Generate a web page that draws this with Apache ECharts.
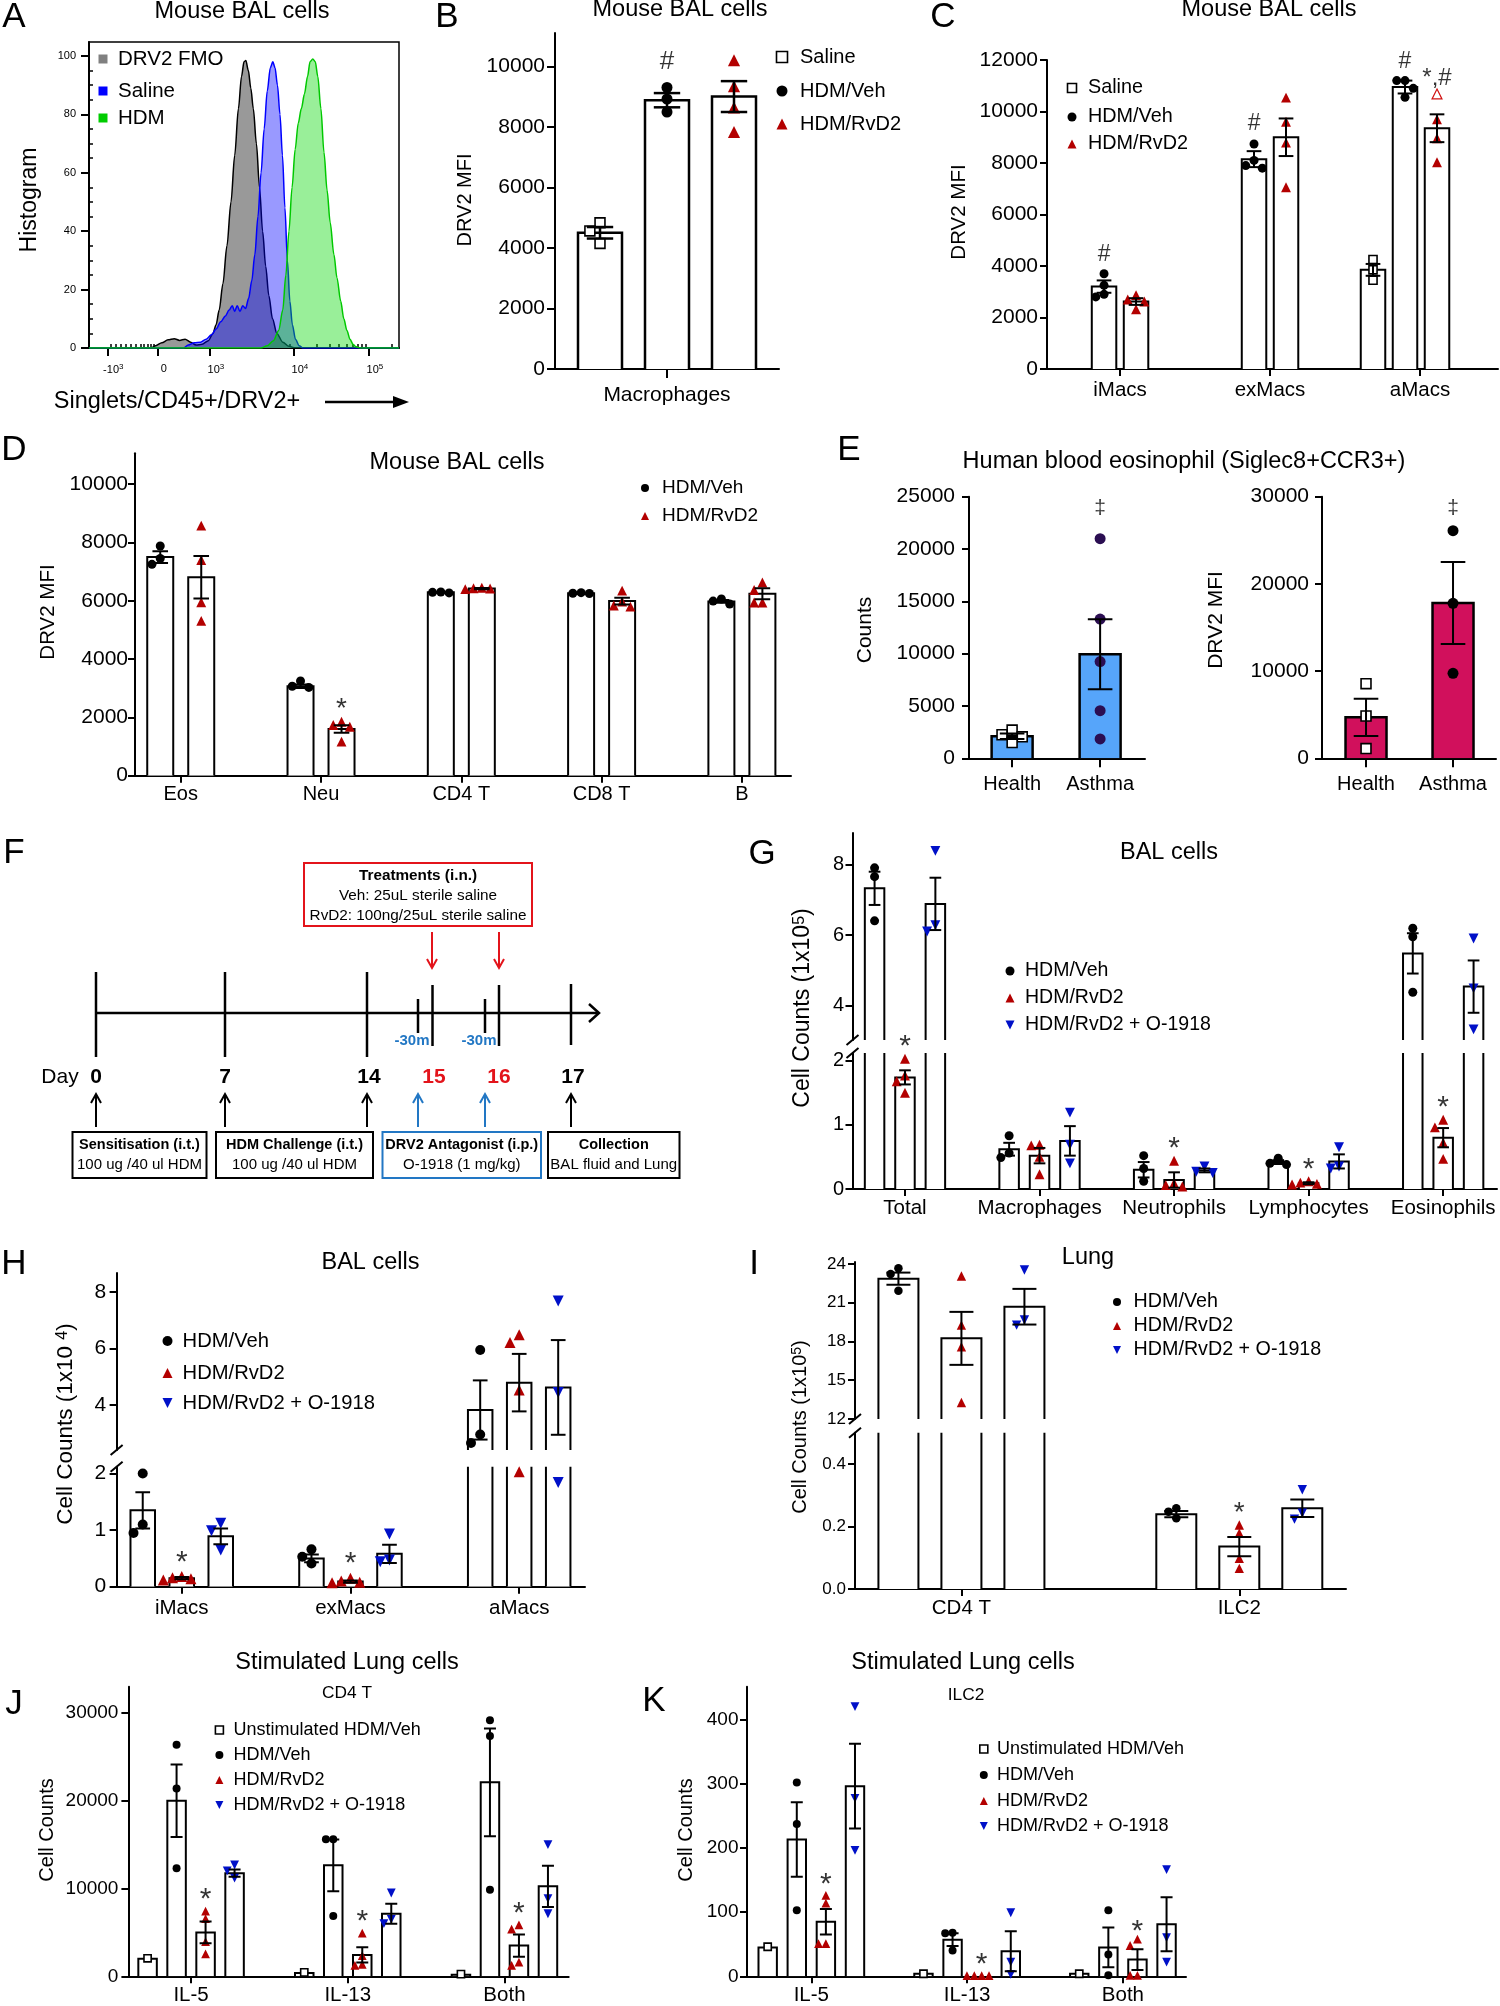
<!DOCTYPE html>
<html>
<head>
<meta charset="utf-8">
<title>DRV2 figure</title>
<script src="https://cdn.jsdelivr.net/npm/echarts@6.0.0/dist/echarts.min.js"></script>
<style>html,body{margin:0;padding:0;background:#fff;}#chart{width:1500px;height:2006px;}</style>
</head>
<body>
<div id="chart"></div>
<script>
// ======================= DATA =======================
// Panel A: flow histograms, [display channel (0-1000 across plot), % of max]
const A_fmo = [[0,0],[200,0],[215,0.8],[235,1.8],[255,2.8],[275,3.2],[292,2.6],[310,3],[328,2],[345,1],[365,1.3],[385,2.5],[400,5],[410,8],[420,13],[432,22],[445,35],[458,50],[470,66],[482,82],[492,93],[500,98],[506,98.5],[514,95],[522,89],[530,82],[540,70],[550,55],[560,40],[570,28],[580,18],[592,10],[606,5],[625,2],[645,0.6],[665,0],[1000,0]];
const A_saline = [[0,0],[305,0],[320,1],[340,1.8],[360,2],[378,3],[395,4.5],[410,6.5],[425,9],[440,11],[452,13],[462,14.5],[470,12.5],[478,14.5],[487,12.5],[496,14.5],[505,13.5],[515,17],[525,23],[535,32],[545,45],[555,60],[565,75],[575,88],[585,96],[593,98],[600,96],[608,90],[616,80],[624,66],[632,48],[640,30],[648,16],[656,8],[666,3],[678,0.8],[690,0],[1000,0]];
const A_hdm = [[0,0],[555,0],[575,0.8],[595,2.5],[612,6],[625,13],[635,25],[645,40],[655,55],[665,68],[675,77],[685,82],[695,87],[705,93],[713,98],[722,99],[730,98],[738,93],[748,82],[758,67],[768,54],[778,43],[790,32],[800,24],[812,16],[822,10],[832,6],[842,3],[852,1.2],[862,0.4],[875,0],[1000,0]];
const A_xTickLabels = ['-10^3','0','10^3','10^4','10^5'];

// Panel B
const B_cats = ['Macrophages'];
const B_saline_mean = [4500], B_saline_sem = [190], B_saline_pts = [[4830, 4560, 4150]];
const B_veh_mean = [8880], B_veh_sem = [235], B_veh_pts = [[9300, 8920, 8490]];
const B_rvd2_mean = [9000], B_rvd2_sem = [510], B_rvd2_pts = [[10200, 9340, 8640, 7830]];

// Panel C
const C_cats = ['iMacs', 'exMacs', 'aMacs'];
const C_saline_mean = [null, null, 3850], C_saline_sem = [null, null, 230], C_saline_pts = [[], [], [4250, 3850, 3450]];
const C_veh_mean = [3200, 8150, 10950], C_veh_sem = [240, 310, 250];
const C_veh_pts = [[3700, 3250, 2900, 2800], [8740, 8100, 7900, 7800], [11200, 11200, 10900, 10550]];
const C_rvd2_mean = [2620, 9000, 9350], C_rvd2_sem = [130, 730, 540];
const C_rvd2_pts = [[2870, 2700, 2620, 2320], [10540, 9600, 8790, 7060], [9700, 8960, 8030]];
const C_rvd2_open = [[], [], [10680]];

// Panel D
const D_cats = ['Eos', 'Neu', 'CD4 T', 'CD8 T', 'B'];
const D_veh_mean = [7500, 3070, 6290, 6260, 5980], D_veh_sem = [200, 60, 15, 15, 50];
const D_veh_pts = [[7880, 7450, 7250], [3250, 3070, 3030], [6300, 6290, 6270], [6280, 6260, 6250], [6060, 5990, 5890]];
const D_rvd2_mean = [6810, 1600, 6420, 5990, 6240], D_rvd2_sem = [730, 130, 20, 115, 190];
const D_rvd2_pts = [[8580, 7400, 5950, 5310], [1850, 1740, 1680, 1170], [6450, 6430, 6420, 6400], [6350, 5970, 5840, 5800], [6630, 6370, 5940, 5940]];

// Panel E
const E_cats = ['Health', 'Asthma'];
const E1_health_mean = [2100, null], E1_health_sem = [260, null], E1_health_pts = [[2700, 2250, 2050, 1500], []];
const E1_asthma_mean = [null, 9950], E1_asthma_sem = [null, 3350], E1_asthma_pts = [[], [20990, 13310, 9240, 4550, 1850]];
const E2_health_mean = [4700, null], E2_health_sem = [2140, null], E2_health_pts = [[8560, 4850, 1110], []];
const E2_asthma_mean = [null, 17800], E2_asthma_sem = [null, 4700], E2_asthma_pts = [[], [26100, 17770, 9750]];

// Panel G
const G_cats = ['Total', 'Macrophages', 'Neutrophils', 'Lymphocytes', 'Eosinophils'];
const G_veh_mean = [7.32, 0.62, 0.30, 0.42, 5.48], G_veh_sem = [0.47, 0.10, 0.12, 0.03, 0.57];
const G_veh_pts = [[7.9, 7.65, 6.4], [0.83, 0.56, 0.49], [0.52, 0.32, 0.12], [0.48, 0.40, 0.38], [6.19, 5.95, 4.38]];
const G_rvd2_mean = [1.74, 0.52, 0.14, 0.09, 0.80], G_rvd2_sem = [0.11, 0.12, 0.12, 0.015, 0.15];
const G_rvd2_pts = [[2.03, 1.77, 1.68, 1.5], [0.69, 0.68, 0.5, 0.23], [0.44, 0.09, 0.06, 0.04], [0.12, 0.1, 0.08, 0.07], [1.08, 0.96, 0.72, 0.47]];
const G_o_mean = [6.88, 0.75, 0.29, 0.43, 4.54], G_o_sem = [0.74, 0.23, 0.03, 0.11, 0.74];
const G_o_pts = [[8.38, 6.28, 6.1], [1.19, 0.69, 0.40], [0.35, 0.27, 0.25], [0.65, 0.35, 0.32], [5.9, 4.49, 3.33]];

// Panel H
const H_cats = ['iMacs', 'exMacs', 'aMacs'];
const H_veh_mean = [1.35, 0.50, 3.82], H_veh_sem = [0.32, 0.07, 1.05];
const H_veh_pts = [[2.0, 1.1, 0.95], [0.66, 0.53, 0.41], [5.95, 2.95, 2.65]];
const H_rvd2_mean = [0.15, 0.09, 4.79], H_rvd2_sem = [0.02, 0.02, 1.02];
const H_rvd2_pts = [[0.18, 0.16, 0.14, 0.12], [0.15, 0.10, 0.08, 0.07], [6.49, 6.21, 4.53, 2.03]];
const H_o_mean = [0.89, 0.58, 4.62], H_o_sem = [0.14, 0.16, 1.68];
const H_o_pts = [[1.12, 0.99, 0.65], [0.93, 0.47, 0.44], [7.69, 4.44, 1.84]];

// Panel I
const I_cats = ['CD4 T', 'ILC2'];
const I_veh_mean = [22.86, 0.240], I_veh_sem = [0.47, 0.010];
const I_veh_pts = [[23.66, 23.22, 21.93], [0.259, 0.248, 0.227]];
const I_rvd2_mean = [18.24, 0.136], I_rvd2_sem = [2.05, 0.031];
const I_rvd2_pts = [[23.07, 19.27, 17.59, 13.28], [0.205, 0.179, 0.098, 0.066]];
const I_o_mean = [20.69, 0.259], I_o_sem = [1.38, 0.028];
const I_o_pts = [[23.53, 19.66, 19.27], [0.318, 0.243, 0.224]];

// Panel J (CD4 T)
const J_cats = ['IL-5', 'IL-13', 'Both'];
const J_unstim_mean = [2000, 380, 190], J_unstim_pts = [[2050], [450], [250]];
const J_veh_mean = [20000, 12650, 22100], J_veh_sem = [4130, 2950, 6140];
const J_veh_pts = [[26380, 21390, 12310], [15610, 15610, 6870], [29190, 27390, 9870]];
const J_rvd2_mean = [5000, 2440, 3500], J_rvd2_sem = [1240, 880, 1260];
const J_rvd2_pts = [[7430, 6570, 3940, 2550], [4920, 2360, 1350, 1240], [5850, 5370, 1610, 1240]];
const J_o_mean = [11750, 7130, 10250], J_o_sem = [410, 1130, 2360];
const J_o_pts = [[12680, 12010, 11180], [9490, 6490, 6000], [15010, 8860, 7130]];

// Panel K (ILC2)
const K_cats = ['IL-5', 'IL-13', 'Both'];
const K_unstim_mean = [45, 4, 4], K_unstim_pts = [[46], [4], [4]];
const K_veh_mean = [213, 57, 45], K_veh_sem = [58, 10, 31];
const K_veh_pts = [[302, 237, 103], [68, 67, 40], [103, 34, 1.5]];
const K_rvd2_mean = [85, 0, 26], K_rvd2_sem = [20, 0, 16];
const K_rvd2_pts = [[126, 114, 51, 51], [1, 1, 1, 1], [58, 48, 1.5, 1.5]];
const K_o_mean = [296, 39, 81], K_o_sem = [66, 31, 42];
const K_o_pts = [[420, 277, 196], [99, 22, 3], [166, 60, 22]];

// ======================= STYLE / LAYOUT =======================
const FONT = "'Liberation Sans', Arial, Helvetica, sans-serif";
const NARROW = "'Liberation Sans Narrow', 'Liberation Sans', Arial, sans-serif";
const RED = '#b30000', BLUE = '#0010c8';
const INV = 'path://M0,0L10,0L5,9Z';
const AX = {color: '#000', width: 2};
const SYM = {
  sq:   {symbol: 'rect', color: '#fff', border: '#000', bw: 1.6, scale: 0.9},
  dot:  {symbol: 'circle', color: '#000', scale: 1},
  dotP: {symbol: 'circle', color: '#2b0e52', scale: 1},
  tri:  {symbol: 'triangle', color: RED, scale: 1.1},
  inv:  {symbol: INV, color: BLUE, scale: 1.1},
  triOpen: {symbol: 'triangle', color: 'rgba(0,0,0,0)', border: '#d01010', bw: 1.2, scale: 1.1}
};
const TITLE = 23.5;

const option = {animation: false, backgroundColor: '#fff', textStyle: {fontFamily: FONT},
  grid: [], xAxis: [], yAxis: [], series: [], graphic: {elements: []}};
const GFX = option.graphic.elements;

function txt(x, y, text, size, o) {
  o = o || {};
  const st = {text: text, fontSize: size, fontFamily: o.family || FONT, fontWeight: o.bold ? 'bold' : 'normal',
    fill: o.color || '#000', align: o.align || 'center', verticalAlign: o.va || 'middle',
    textAlign: o.align || 'center', textVerticalAlign: o.va || 'middle'};
  if (o.rich) st.rich = o.rich;
  return {type: 'text', x: x, y: y, rotation: o.rot || 0, z: 100, silent: true, style: st};
}
function ln(x1, y1, x2, y2, color, w) {
  return {type: 'line', z: 100, silent: true, shape: {x1, y1, x2, y2}, style: {stroke: color || '#000', lineWidth: w || 2}};
}
function pl(points, color, w) {
  return {type: 'polyline', z: 100, silent: true, shape: {points}, style: {stroke: color || '#000', lineWidth: w || 2, fill: 'none'}};
}
function symG(kind, cx, cy, s) {
  const h = s / 2;
  if (kind === 'sq') return {type: 'rect', z: 100, shape: {x: cx - h, y: cy - h, width: s, height: s}, style: {fill: '#fff', stroke: '#000', lineWidth: 1.6}};
  if (kind === 'dot') return {type: 'circle', z: 100, shape: {cx, cy, r: h}, style: {fill: '#000'}};
  if (kind === 'tri') return {type: 'polygon', z: 100, shape: {points: [[cx, cy - h], [cx + h, cy + h], [cx - h, cy + h]]}, style: {fill: RED}};
  if (kind === 'inv') return {type: 'polygon', z: 100, shape: {points: [[cx - h, cy - h], [cx + h, cy - h], [cx, cy + h]]}, style: {fill: BLUE}};
  return {type: 'rect', z: 100, shape: {x: cx - h, y: cy - h, width: s, height: s}, style: {fill: kind}};
}
function legend(sx, tx, ys, items, size, font) {
  items.forEach((it, i) => {
    GFX.push(symG(it[0], sx, ys[i], size));
    GFX.push(txt(tx, ys[i], it[1], font, {align: 'left'}));
  });
}
const fmtInt = v => String(Math.round(v));

function addAxes(g, xCfg, yCfg, extraGrid) {
  const gi = option.grid.length;
  option.grid.push(Object.assign({left: g.left, top: g.top, width: g.width, height: g.height, show: false}, extraGrid || {}));
  const xi = option.xAxis.length; option.xAxis.push(Object.assign({gridIndex: gi}, xCfg));
  const yi = option.yAxis.length; option.yAxis.push(Object.assign({gridIndex: gi}, yCfg));
  return {gi, xi, yi};
}

function swarm(pys, size) {
  const order = pys.map((_, i) => i).sort((a, b) => pys[a] - pys[b]);
  const placed = [], out = new Array(pys.length).fill(0);
  const step = size * 0.92;
  order.forEach(i => {
    const cands = [0];
    for (let k = 1; k < 8; k++) cands.push(-k * step, k * step);
    for (const dx of cands) {
      if (placed.every(p => Math.hypot(p.x - dx, p.y - pys[i]) >= step - 0.01)) {
        out[i] = dx; placed.push({x: dx, y: pys[i]}); break;
      }
    }
  });
  return out;
}

function barPanel(P) {
  const n = P.cats.length;
  const catPx = P.grids[0].width / (P.xMax - P.xMin);
  const offs = P.groups.map(() => new Array(n).fill(0));
  for (let c = 0; c < n; c++) {
    const present = [];
    P.groups.forEach((g, i) => { if (g.mean[c] != null || (g.pts[c] && g.pts[c].length)) present.push(i); });
    present.forEach((gi, k) => { offs[gi][c] = (k - (present.length - 1) / 2) * P.slot + (P.catShift ? P.catShift[c] : 0); });
  }
  const ticksIdx = P.cats.map((_, i) => i);
  const axes = P.grids.map((g, k) => {
    const isBottom = k === P.grids.length - 1;
    const ax = addAxes(g, {
      type: 'value', min: P.xMin, max: P.xMax, show: isBottom,
      axisLine: {show: true, onZero: false, lineStyle: AX},
      axisTick: {show: true, customValues: ticksIdx, length: P.xTickLen || 7, lineStyle: AX},
      axisLabel: {show: true, customValues: ticksIdx, formatter: v => P.cats[Math.round(v)], margin: P.xMargin,
        fontSize: P.catFont || 20, color: '#000', fontFamily: FONT},
      splitLine: {show: false}
    }, {
      type: 'value', min: g.yMin, max: g.yMax,
      axisLine: {show: true, onZero: false, lineStyle: AX},
      axisTick: {show: true, customValues: g.ticks, length: P.yTickLen || 7, lineStyle: AX},
      axisLabel: {show: true, customValues: g.ticks, formatter: g.fmt || fmtInt, margin: P.yMargin,
        fontSize: P.tickFont || 20, color: '#000', fontFamily: FONT},
      splitLine: {show: false}
    });
    ax.g = g;
    return ax;
  });
  const gridOf = v => {
    for (const ax of axes) if (v >= ax.g.yMin && v <= ax.g.yMax) return ax;
    return null;
  };
  const pyOf = v => {
    let ax = gridOf(v) || axes[axes.length - 1];
    const g = ax.g;
    return g.top + (g.yMax - v) * g.height / (g.yMax - g.yMin);
  };
  const capW = P.cap || Math.max(10, P.bw * 0.6);

  P.groups.forEach((grp, gIdx) => {
    const off = offs[gIdx];
    const fill = grp.fill || '#fff';
    const bw = P.bw;
    const bdata = [];
    grp.mean.forEach((m, c) => { if (m != null && m !== 0) bdata.push([c, m]); });
    const edata = [];
    grp.mean.forEach((m, c) => { if (m != null && grp.sem && grp.sem[c] != null && grp.sem[c] > 0) edata.push([c, m, grp.sem[c]]); });
    const st = SYM[grp.s];
    const size = P.sym * st.scale;
    const pdata = axes.map(() => []);
    grp.pts.forEach((arr, c) => {
      if (!arr || !arr.length) return;
      const pys = arr.map(pyOf);
      const dx = swarm(pys, P.sym);
      arr.forEach((v, i) => {
        const ax = gridOf(v);
        if (!ax) return;
        pdata[axes.indexOf(ax)].push([c + (off[c] + dx[i]) / catPx, v]);
      });
    });
    const odata = axes.map(() => []);
    if (grp.open) grp.open.forEach((arr, c) => arr.forEach(v => {
      const ax = gridOf(v); if (ax) odata[axes.indexOf(ax)].push([c + off[c] / catPx, v]);
    }));
    axes.forEach((ax, k) => {
      option.series.push({type: 'custom', xAxisIndex: ax.xi, yAxisIndex: ax.yi, clip: true, silent: true, z: 1, data: bdata,
        renderItem: (params, api) => {
          const c = api.value(0), v = api.value(1);
          const pt = api.coord([c, v]), b = api.coord([c, 0]);
          const x0 = pt[0] + off[c] - bw / 2;
          return {type: 'group', children: [
            {type: 'rect', shape: {x: x0, y: pt[1], width: bw, height: b[1] - pt[1]}, style: {fill: fill}},
            {type: 'polyline', shape: {points: [[x0, b[1]], [x0, pt[1]], [x0 + bw, pt[1]], [x0 + bw, b[1]]]},
              style: {stroke: '#000', lineWidth: P.barLW || 2, fill: 'none'}}
          ]};
        }});
      option.series.push({type: 'custom', xAxisIndex: ax.xi, yAxisIndex: ax.yi, clip: true, silent: true, z: 4, data: edata,
        renderItem: (params, api) => {
          const c = api.value(0), m = api.value(1), s = api.value(2);
          const p1 = api.coord([c, m + s]), p2 = api.coord([c, m - s]);
          const x = p1[0] + off[c], hw = capW / 2;
          const sty = {stroke: '#000', lineWidth: P.errLW || 2};
          return {type: 'group', children: [
            {type: 'line', shape: {x1: x, y1: p1[1], x2: x, y2: p2[1]}, style: sty},
            {type: 'line', shape: {x1: x - hw, y1: p1[1], x2: x + hw, y2: p1[1]}, style: sty},
            {type: 'line', shape: {x1: x - hw, y1: p2[1], x2: x + hw, y2: p2[1]}, style: sty}
          ]};
        }});
      option.series.push({type: 'scatter', xAxisIndex: ax.xi, yAxisIndex: ax.yi, clip: true, silent: true, z: 3,
        symbol: st.symbol, symbolSize: size, data: pdata[k],
        itemStyle: {color: st.color, borderColor: st.border || st.color, borderWidth: st.bw || 0, opacity: 1}});
      if (grp.open) {
        const so = SYM.triOpen;
        option.series.push({type: 'scatter', xAxisIndex: ax.xi, yAxisIndex: ax.yi, clip: true, silent: true, z: 3,
          symbol: so.symbol, symbolSize: P.sym * so.scale, data: odata[k],
          itemStyle: {color: so.color, borderColor: so.border, borderWidth: so.bw, opacity: 1}});
      }
    });
  });
  (P.annots || []).forEach(a => {
    const grp = P.groups[a.g];
    let vals = (grp.pts[a.c] || []).slice();
    if (grp.open && grp.open[a.c]) vals = vals.concat(grp.open[a.c]);
    if (grp.mean[a.c] != null) vals.push(grp.mean[a.c] + ((grp.sem && grp.sem[a.c]) || 0));
    const top = Math.max.apply(null, vals);
    const ax = gridOf(top) || axes[axes.length - 1];
    option.series.push({type: 'scatter', xAxisIndex: ax.xi, yAxisIndex: ax.yi, clip: false, silent: true, z: 5,
      symbolSize: 0, itemStyle: {color: 'rgba(0,0,0,0)'}, data: [[a.c + offs[a.g][a.c] / catPx, top]],
      label: {show: true, position: 'top', distance: a.d, formatter: a.text, fontSize: a.size || 22,
        color: '#000', fontFamily: FONT}});
  });
  return axes;
}

// ======================= PANEL A (histogram) =======================
(function () {
  const g = {left: 89, top: 42, width: 310, height: 306};
  const majors = [59, 222, 390, 661, 903];
  const minors = [70, 86, 102, 119, 135, 151, 167, 178, 189, 199, 210, 237, 248, 264, 281, 297, 313, 327, 340, 356, 372];
  for (let m = 2; m <= 9; m++) { minors.push(390 + 271 * Math.log10(m)); minors.push(661 + 242 * Math.log10(m)); }
  minors.push(903 + 242 * Math.log10(2));
  const yMaj = [0, 20, 40, 60, 80, 100];
  const yMin = []; for (let v = 5; v < 100; v += 5) if (v % 20) yMin.push(v);
  const labMap = {};
  majors.forEach((v, i) => { labMap[v] = A_xTickLabels[i].replace(/\^(\d)/, '{s|$1}'); });
  const ax = addAxes(g, {
    type: 'value', min: 0, max: 1000,
    axisLine: {show: true, onZero: false, lineStyle: AX},
    axisTick: {show: true, customValues: majors, length: 8, lineStyle: AX},
    axisLabel: {show: true, customValues: majors, formatter: v => labMap[v], margin: 15, fontSize: 11, color: '#000',
      fontFamily: FONT, padding: [0, 0, 0, 12], rich: {s: {fontSize: 8, verticalAlign: 'top', fontFamily: FONT, color: '#000', padding: [0, 0, 6, 0]}}},
    splitLine: {show: false}
  }, {
    type: 'value', min: 0, max: 104.8,
    axisLine: {show: true, onZero: false, lineStyle: AX},
    axisTick: {show: true, customValues: yMaj, length: 8, lineStyle: AX},
    axisLabel: {show: true, customValues: yMaj, formatter: fmtInt, margin: 13, fontSize: 11, color: '#000', fontFamily: FONT},
    splitLine: {show: false}
  }, {show: true, borderColor: '#000', borderWidth: 1.5, backgroundColor: 'rgba(0,0,0,0)'});
  option.xAxis.push({gridIndex: ax.gi, type: 'value', min: 0, max: 1000, axisLine: {show: false},
    axisTick: {show: true, customValues: minors, length: 4, lineStyle: {color: '#000', width: 1.5}}, axisLabel: {show: false}, splitLine: {show: false}});
  option.yAxis.push({gridIndex: ax.gi, type: 'value', min: 0, max: 104.8, axisLine: {show: false},
    axisTick: {show: true, customValues: yMin, length: 4, lineStyle: {color: '#000', width: 1.5}}, axisLabel: {show: false}, splitLine: {show: false}});
  const mk = (data, line, area, z) => ({type: 'line', xAxisIndex: ax.xi, yAxisIndex: ax.yi, data, symbol: 'none', smooth: 0.3,
    smoothMonotone: 'x', silent: true, z, lineStyle: {color: line, width: 1.5}, areaStyle: {color: area, opacity: 1}});
  option.series.push(mk(A_fmo, '#000', '#999999', 2));
  option.series.push(mk(A_saline, '#0000ff', 'rgba(0,0,255,0.4)', 3));
  option.series.push(mk(A_hdm, '#00c800', 'rgba(0,215,0,0.4)', 4));
  GFX.push(txt(30, 200, 'Histogram', 23, {rot: Math.PI / 2}));
  GFX.push(txt(177, 402, 'Singlets/CD45+/DRV2+', 23.5));
  GFX.push(ln(325, 402, 398, 402, '#000', 2.5));
  GFX.push({type: 'polygon', z: 100, shape: {points: [[393, 396], [409, 402], [393, 408]]}, style: {fill: '#000'}});
  legend(103, 118, [59, 91, 118], [['#808080', 'DRV2 FMO'], ['#0000ff', 'Saline'], ['#00cc00', 'HDM']], 9, 20.5);
})();

// ======================= BAR PANELS =======================
barPanel({cats: B_cats, xMin: -0.5, xMax: 0.5, slot: 67, bw: 44, sym: 11, tickFont: 21, catFont: 21,
  yMargin: 10, xMargin: 16, xTickLen: 9, yTickLen: 8, barLW: 2.5, errLW: 2.5,
  grids: [{left: 555, top: 33, width: 224, height: 336, yMin: 0, yMax: 11100, ticks: [0, 2000, 4000, 6000, 8000, 10000]}],
  groups: [
    {mean: B_saline_mean, sem: B_saline_sem, pts: B_saline_pts, s: 'sq'},
    {mean: B_veh_mean, sem: B_veh_sem, pts: B_veh_pts, s: 'dot'},
    {mean: B_rvd2_mean, sem: B_rvd2_sem, pts: B_rvd2_pts, s: 'tri'}],
  annots: [{g: 1, c: 0, text: '#', d: 13, size: 26}]});

barPanel({cats: C_cats, xMin: -0.487, xMax: 2.52, slot: 32, bw: 24.5, sym: 9, tickFont: 21, catFont: 20.5,
  yMargin: 9, xMargin: 11, catShift: [0, 0, -15],
  grids: [{left: 1047, top: 60, width: 451, height: 309, yMin: 0, yMax: 12000, ticks: [0, 2000, 4000, 6000, 8000, 10000, 12000]}],
  groups: [
    {mean: C_saline_mean, sem: C_saline_sem, pts: C_saline_pts, s: 'sq'},
    {mean: C_veh_mean, sem: C_veh_sem, pts: C_veh_pts, s: 'dot'},
    {mean: C_rvd2_mean, sem: C_rvd2_sem, pts: C_rvd2_pts, s: 'tri', open: C_rvd2_open}],
  annots: [{g: 1, c: 0, text: '#', d: 7.5, size: 23}, {g: 1, c: 1, text: '#', d: 8.5, size: 23},
    {g: 1, c: 2, text: '#', d: 7.5, size: 23}, {g: 2, c: 2, text: '*,#', d: 4, size: 24}]});

barPanel({cats: D_cats, xMin: -0.326, xMax: 4.35, slot: 41, bw: 26, sym: 9, tickFont: 21, catFont: 20,
  yMargin: 7, xMargin: 9,
  grids: [{left: 135, top: 453.3, width: 656, height: 322.4, yMin: 0, yMax: 11060, ticks: [0, 2000, 4000, 6000, 8000, 10000]}],
  groups: [
    {mean: D_veh_mean, sem: D_veh_sem, pts: D_veh_pts, s: 'dot'},
    {mean: D_rvd2_mean, sem: D_rvd2_sem, pts: D_rvd2_pts, s: 'tri'}],
  annots: [{g: 1, c: 1, text: '*', d: -1.4, size: 28}]});

barPanel({cats: E_cats, xMin: -0.49, xMax: 1.51, slot: 0, bw: 41, sym: 11, tickFont: 21, catFont: 20,
  yMargin: 14, xMargin: 16, xTickLen: 9, barLW: 2.5,
  grids: [{left: 969, top: 496.7, width: 176, height: 261.6, yMin: 0, yMax: 25000, ticks: [0, 5000, 10000, 15000, 20000, 25000]}],
  groups: [
    {mean: E1_health_mean, sem: E1_health_sem, pts: E1_health_pts, s: 'sq', fill: '#56a5fa'},
    {mean: E1_asthma_mean, sem: E1_asthma_sem, pts: E1_asthma_pts, s: 'dotP', fill: '#56a5fa'}],
  annots: [{g: 1, c: 1, text: '‡', d: 20, size: 21}]});

barPanel({cats: E_cats, xMin: -0.506, xMax: 1.494, slot: 0, bw: 41, sym: 11, tickFont: 21, catFont: 20,
  yMargin: 13, xMargin: 16, xTickLen: 9, barLW: 2.5,
  grids: [{left: 1322, top: 496.7, width: 174, height: 261.6, yMin: 0, yMax: 30000, ticks: [0, 10000, 20000, 30000]}],
  groups: [
    {mean: E2_health_mean, sem: E2_health_sem, pts: E2_health_pts, s: 'sq', fill: '#d1105c'},
    {mean: E2_asthma_mean, sem: E2_asthma_sem, pts: E2_asthma_pts, s: 'dot', fill: '#d1105c'}],
  annots: [{g: 1, c: 1, text: '‡', d: 12, size: 21}]});

barPanel({cats: G_cats, xMin: -0.39, xMax: 4.40, slot: 30.4, bw: 19.5, sym: 9, tickFont: 20, catFont: 20.5,
  yMargin: 8.5, xMargin: 9,
  grids: [{left: 852.5, top: 833, width: 644.5, height: 207, yMin: 3.03, yMax: 8.885, ticks: [4, 6, 8]},
          {left: 852.5, top: 1053, width: 644.5, height: 136, yMin: 0, yMax: 2.12, ticks: [0, 1, 2]}],
  groups: [
    {mean: G_veh_mean, sem: G_veh_sem, pts: G_veh_pts, s: 'dot'},
    {mean: G_rvd2_mean, sem: G_rvd2_sem, pts: G_rvd2_pts, s: 'tri'},
    {mean: G_o_mean, sem: G_o_sem, pts: G_o_pts, s: 'inv'}],
  annots: [0, 2, 3, 4].map(c => ({g: 1, c, text: '*', d: -3.4, size: 30}))});

barPanel({cats: H_cats, xMin: -0.386, xMax: 2.39, slot: 39, bw: 24.5, sym: 10, tickFont: 21, catFont: 20.5,
  yMargin: 10.5, xMargin: 11,
  grids: [{left: 116.6, top: 1273, width: 468.4, height: 177, yMin: 2.4, yMax: 8.68, ticks: [4, 6, 8]},
          {left: 116.6, top: 1466.7, width: 468.4, height: 120, yMin: 0, yMax: 2.12, ticks: [0, 1, 2]}],
  groups: [
    {mean: H_veh_mean, sem: H_veh_sem, pts: H_veh_pts, s: 'dot'},
    {mean: H_rvd2_mean, sem: H_rvd2_sem, pts: H_rvd2_pts, s: 'tri'},
    {mean: H_o_mean, sem: H_o_sem, pts: H_o_pts, s: 'inv'}],
  annots: [0, 1].map(c => ({g: 1, c, text: '*', d: -0.9, size: 30}))});

barPanel({cats: I_cats, xMin: -0.383, xMax: 1.384, slot: 63, bw: 40, sym: 8.5, tickFont: 17, catFont: 20.5,
  yMargin: 9, xMargin: 9,
  grids: [{left: 855, top: 1262, width: 491, height: 157, yMin: 12, yMax: 24.15, ticks: [12, 15, 18, 21, 24]},
          {left: 855, top: 1432.7, width: 491, height: 156.3, yMin: 0, yMax: 0.501, ticks: [0, 0.2, 0.4], fmt: v => v.toFixed(1)}],
  groups: [
    {mean: I_veh_mean, sem: I_veh_sem, pts: I_veh_pts, s: 'dot'},
    {mean: I_rvd2_mean, sem: I_rvd2_sem, pts: I_rvd2_pts, s: 'tri'},
    {mean: I_o_mean, sem: I_o_sem, pts: I_o_pts, s: 'inv'}],
  annots: [{g: 1, c: 1, text: '*', d: -2.4, size: 28}]});

barPanel({cats: J_cats, xMin: -0.40, xMax: 2.41, slot: 29, bw: 18.5, sym: 8, tickFont: 19, catFont: 20.5,
  yMargin: 10, xMargin: 8.7, cap: 12,
  grids: [{left: 128.4, top: 1686.7, width: 440.3, height: 292.6, yMin: 0, yMax: 33000, ticks: [0, 10000, 20000, 30000]}],
  groups: [
    {mean: J_unstim_mean, sem: null, pts: J_unstim_pts, s: 'sq'},
    {mean: J_veh_mean, sem: J_veh_sem, pts: J_veh_pts, s: 'dot'},
    {mean: J_rvd2_mean, sem: J_rvd2_sem, pts: J_rvd2_pts, s: 'tri'},
    {mean: J_o_mean, sem: J_o_sem, pts: J_o_pts, s: 'inv'}],
  annots: [0, 1, 2].map(c => ({g: 2, c, text: '*', d: -3.4, size: 30}))});

barPanel({cats: K_cats, xMin: -0.413, xMax: 2.405, slot: 29.1, bw: 18.4, sym: 8, tickFont: 19, catFont: 20.5,
  yMargin: 8.5, xMargin: 8.7, cap: 12,
  grids: [{left: 747, top: 1686.7, width: 439, height: 292.6, yMin: 0, yMax: 451, ticks: [0, 100, 200, 300, 400]}],
  groups: [
    {mean: K_unstim_mean, sem: null, pts: K_unstim_pts, s: 'sq'},
    {mean: K_veh_mean, sem: K_veh_sem, pts: K_veh_pts, s: 'dot'},
    {mean: K_rvd2_mean, sem: K_rvd2_sem, pts: K_rvd2_pts, s: 'tri'},
    {mean: K_o_mean, sem: K_o_sem, pts: K_o_pts, s: 'inv'}],
  annots: [{g: 2, c: 0, text: '*', d: -4.4, size: 30}, {g: 2, c: 1, text: '*', d: -4.4, size: 30}, {g: 2, c: 2, text: '*', d: -7.4, size: 30}]});

// ======================= TEXT, LEGENDS, DECORATIONS =======================
[['A', 14, 17], ['B', 447, 17], ['C', 943, 17], ['D', 14, 450], ['E', 849, 450], ['F', 14, 853], ['G', 762, 854],
 ['H', 14, 1264], ['I', 754, 1264], ['J', 14, 1704], ['K', 654, 1701]].forEach(l => GFX.push(txt(l[1], l[2], l[0], 35)));

[['Mouse BAL cells', 242, 12], ['Mouse BAL cells', 680, 10], ['Mouse BAL cells', 1269, 10], ['Mouse BAL cells', 457, 463],
 ['Human blood eosinophil (Siglec8+CCR3+)', 1184, 462], ['BAL cells', 1169, 853], ['BAL cells', 370.5, 1263],
 ['Lung', 1088, 1258], ['Stimulated Lung cells', 347, 1663], ['Stimulated Lung cells', 963, 1663]]
  .forEach(t => GFX.push(txt(t[1], t[2], t[0], TITLE)));
GFX.push(txt(347, 1693, 'CD4 T', 17.3));
GFX.push(txt(966, 1695, 'ILC2', 17.3));

const SUP = s => ({s: {fontSize: s, verticalAlign: 'top', fontFamily: FONT}});
const R = Math.PI / 2;
GFX.push(txt(465, 200, 'DRV2 MFI', 20, {rot: R}));
GFX.push(txt(959, 212, 'DRV2 MFI', 20.5, {rot: R}));
GFX.push(txt(48, 612, 'DRV2 MFI', 20.5, {rot: R}));
GFX.push(txt(865, 630, 'Counts', 21, {rot: R}));
GFX.push(txt(1216, 620, 'DRV2 MFI', 21, {rot: R}));
GFX.push(txt(803, 1008, 'Cell Counts (1x10{s|5})', 23, {rot: R, rich: SUP(16)}));
GFX.push(txt(66, 1424, 'Cell Counts (1x10 {s|4})', 22.5, {rot: R, rich: SUP(16)}));
GFX.push(txt(800.6, 1427, 'Cell Counts (1x10{s|5})', 20, {rot: R, rich: SUP(14)}));
GFX.push(txt(47, 1830, 'Cell Counts', 20, {rot: R}));
GFX.push(txt(686.6, 1830, 'Cell Counts', 20, {rot: R}));

// axis break marks
[[852.5, 1040], [852.5, 1053], [116.6, 1450], [116.6, 1466.7], [855, 1419], [855, 1432.7]].forEach(p => {
  GFX.push(ln(p[0] - 6, p[1] + 5, p[0] + 6, p[1] - 5, '#000', 2));
});

legend(782, 800, [57, 91, 124], [['sq', 'Saline'], ['dot', 'HDM/Veh'], ['tri', 'HDM/RvD2']], 11, 20);
legend(1072, 1088, [88, 117, 144], [['sq', 'Saline'], ['dot', 'HDM/Veh'], ['tri', 'HDM/RvD2']], 9, 19.8);
legend(645, 662, [488, 516], [['dot', 'HDM/Veh'], ['tri', 'HDM/RvD2']], 8, 19);
legend(1010, 1025, [971, 998, 1025], [['dot', 'HDM/Veh'], ['tri', 'HDM/RvD2'], ['inv', 'HDM/RvD2 + O-1918']], 9, 19.5);
legend(167.5, 182.6, [1341, 1373, 1403], [['dot', 'HDM/Veh'], ['tri', 'HDM/RvD2'], ['inv', 'HDM/RvD2 + O-1918']], 10, 20.2);
legend(1117, 1133.6, [1302, 1326, 1350], [['dot', 'HDM/Veh'], ['tri', 'HDM/RvD2'], ['inv', 'HDM/RvD2 + O-1918']], 8, 19.7);
legend(219.4, 233.6, [1730, 1755, 1780, 1805], [['sq', 'Unstimulated HDM/Veh'], ['dot', 'HDM/Veh'], ['tri', 'HDM/RvD2'], ['inv', 'HDM/RvD2 + O-1918']], 8, 18);
legend(983.8, 997, [1749, 1775, 1801, 1826], [['sq', 'Unstimulated HDM/Veh'], ['dot', 'HDM/Veh'], ['tri', 'HDM/RvD2'], ['inv', 'HDM/RvD2 + O-1918']], 8, 18);

// ======================= PANEL F (schematic) =======================
(function () {
  const FR = '#e3141b', FB = '#2277c4';
  const box = (x, y, w, h, c) => ({type: 'rect', z: 100, shape: {x, y, width: w, height: h}, style: {fill: '#fff', stroke: c, lineWidth: 2}});
  const down = (x, y1, y2, c) => { GFX.push(ln(x, y1, x, y2, c, 2)); GFX.push(pl([[x - 5, y2 - 9], [x, y2], [x + 5, y2 - 9]], c, 2)); };
  const up = (x, y1, y2, c) => { GFX.push(ln(x, y1, x, y2, c, 2)); GFX.push(pl([[x - 5, y2 + 9], [x, y2], [x + 5, y2 + 9]], c, 2)); };
  GFX.push(box(304, 863, 228, 63, FR));
  GFX.push(txt(418, 876, 'Treatments (i.n.)', 15.3, {bold: true, family: NARROW}));
  GFX.push(txt(418, 896, 'Veh: 25uL sterile saline', 15.3, {family: NARROW}));
  GFX.push(txt(418, 916, 'RvD2: 100ng/25uL sterile saline', 15.3, {family: NARROW}));
  down(432, 932, 968, FR); down(499, 932, 968, FR);
  GFX.push(ln(96, 1013, 598, 1013, '#000', 2.5));
  GFX.push(pl([[589, 1004], [599, 1013], [589, 1022]], '#000', 2.5));
  [96, 225, 367].forEach(x => GFX.push(ln(x, 972, x, 1057, '#000', 2.5)));
  [432.5, 499].forEach(x => GFX.push(ln(x, 985, x, 1046, '#000', 2.5)));
  [418, 485].forEach(x => GFX.push(ln(x, 999, x, 1033, '#000', 2.5)));
  GFX.push(ln(571, 984, 571, 1045, '#000', 2.5));
  GFX.push(txt(412, 1041, '-30m', 15, {bold: true, color: FB, family: NARROW}));
  GFX.push(txt(479, 1041, '-30m', 15, {bold: true, color: FB, family: NARROW}));
  GFX.push(txt(60, 1077, 'Day', 21, {family: NARROW}));
  [['0', 96, '#000'], ['7', 225, '#000'], ['14', 369, '#000'], ['15', 434, FR], ['16', 499, FR], ['17', 573, '#000']]
    .forEach(d => GFX.push(txt(d[1], 1077, d[0], 21, {bold: true, color: d[2], family: NARROW})));
  [96, 225, 367, 571].forEach(x => up(x, 1127, 1094, '#000'));
  [418, 485].forEach(x => up(x, 1127, 1094, FB));
  [[72.5, 134, 'Sensitisation (i.t.)', '100 ug /40 ul HDM', '#000'],
   [216, 157, 'HDM Challenge (i.t.)', '100 ug /40 ul HDM', '#000'],
   [382.5, 158.5, 'DRV2 Antagonist (i.p.)', 'O-1918 (1 mg/kg)', FB],
   [548, 131.5, 'Collection', 'BAL fluid and Lung', '#000']].forEach(b => {
    GFX.push(box(b[0], 1132, b[1], 46, b[4]));
    GFX.push(txt(b[0] + b[1] / 2, 1145, b[2], 14.5, {bold: true, family: NARROW}));
    GFX.push(txt(b[0] + b[1] / 2, 1165, b[3], 15, {family: NARROW}));
  });
})();

const chart = echarts.init(document.getElementById('chart'), null, {renderer: 'canvas', width: 1500, height: 2006});
chart.setOption(option);
</script>
</body>
</html>
